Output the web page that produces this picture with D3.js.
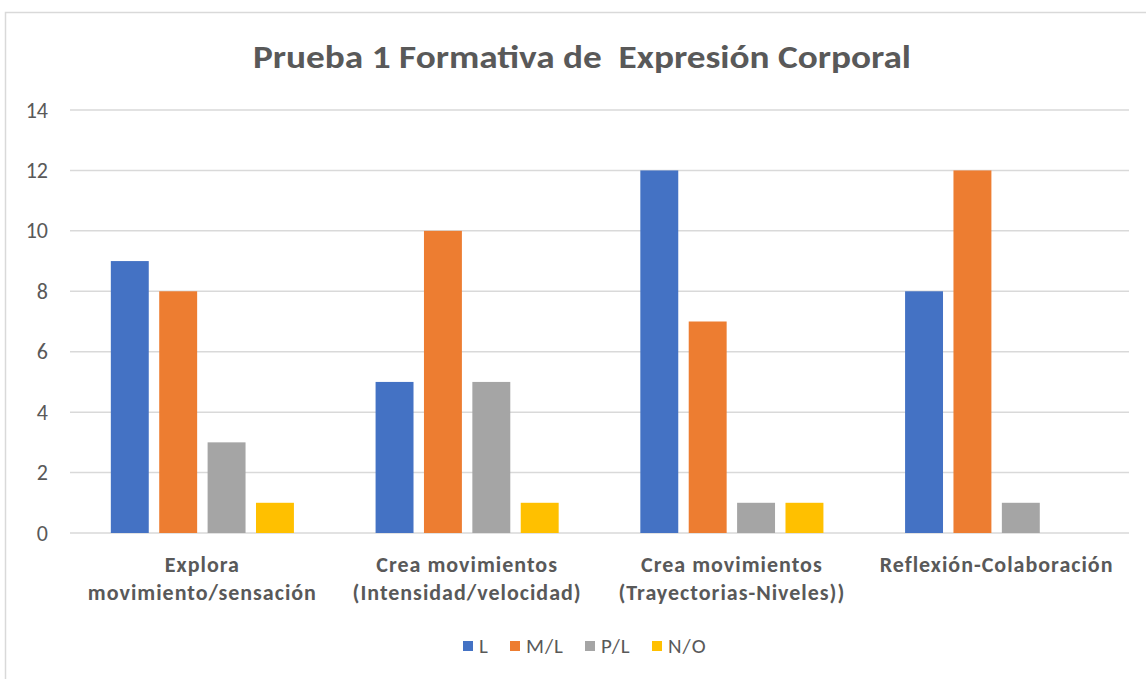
<!DOCTYPE html>
<html>
<head>
<meta charset="utf-8">
<script src="https://cdn.jsdelivr.net/npm/d3@7"></script>
<style>
  body { margin: 0; background: #fff; }
  text { font-family: Carlito, "Open Sans", "Noto Sans", sans-serif; }
</style>
</head>
<body>
<svg width="1146" height="679"></svg>
<script>
const categories = [
  ['Explora', 'movimiento/sensación'],
  ['Crea movimientos', '(Intensidad/velocidad)'],
  ['Crea movimientos', '(Trayectorias-Niveles))'],
  ['Reflexión-Colaboración']
];
const seriesNames = ['L', 'M/L', 'P/L', 'N/O'];
const valuesL = [9, 5, 12, 8];
const valuesML = [8, 10, 7, 12];
const valuesPL = [3, 5, 1, 1];
const valuesNO = [1, 1, 1, 0];
const yTicks = [0, 2, 4, 6, 8, 10, 12, 14];
const colors = ['#4472C4', '#ED7D31', '#A5A5A5', '#FFC000'];

const allValues = [valuesL, valuesML, valuesPL, valuesNO];
const svg = d3.select('svg');

// chart frame (cropped on right / bottom)
svg.append('rect')
  .attr('x', 5.5).attr('y', 12.5)
  .attr('width', 1200).attr('height', 700)
  .attr('fill', 'none').attr('stroke', '#d9d9d9').attr('stroke-width', 1.5);

const plotLeft = 70, plotRight = 1129, plotTop = 110, plotBottom = 533;

const x0 = d3.scaleBand()
  .domain(d3.range(categories.length))
  .range([plotLeft, plotRight])
  .paddingInner(0).paddingOuter(0);

const x1 = d3.scaleBand()
  .domain(seriesNames)
  .range([-102, 102])
  .padding(0.216);

const y = d3.scaleLinear().domain([0, 14]).range([plotBottom, plotTop]);

// gridlines
svg.append('g')
  .selectAll('line')
  .data(yTicks)
  .enter().append('line')
  .attr('x1', plotLeft).attr('x2', plotRight)
  .attr('y1', d => y(d)).attr('y2', d => y(d))
  .attr('stroke', '#d9d9d9').attr('stroke-width', 1.5);

// y axis labels
const yAxis = svg.append('g')
  .attr('transform', `translate(48,0)`)
  .call(d3.axisLeft(y).tickValues(yTicks).tickSize(0).tickPadding(0));
yAxis.select('.domain').remove();
yAxis.selectAll('text')
  .attr('fill', '#595959')
  .style('font-family', 'Carlito, "Open Sans", sans-serif')
  .style('font-size', '22px');

// bars
const groups = svg.append('g')
  .selectAll('g')
  .data(categories.map((c, i) => i))
  .enter().append('g')
  .attr('transform', i => `translate(${x0(i) + x0.bandwidth() / 2},0)`);

groups.selectAll('rect')
  .data(i => seriesNames.map((s, k) => ({ s, k, v: allValues[k][i] })))
  .enter().append('rect')
  .attr('x', d => x1(d.s))
  .attr('y', d => y(d.v))
  .attr('width', x1.bandwidth())
  .attr('height', d => Math.max(0, y(0) - y(d.v)))
  .attr('fill', d => colors[d.k]);

// category labels
const catLabels = svg.append('g')
  .selectAll('text')
  .data(categories)
  .enter().append('text')
  .attr('x', (d, i) => x0(i) + x0.bandwidth() / 2)
  .attr('y', 572)
  .attr('text-anchor', 'middle')
  .attr('fill', '#595959')
  .style('font-size', '22px')
  .style('letter-spacing', '1px')
  .style('font-weight', '600');
catLabels.selectAll('tspan')
  .data(d => d)
  .enter().append('tspan')
  .attr('x', function () { return d3.select(this.parentNode).attr('x'); })
  .attr('dy', (d, i) => i === 0 ? 0 : 28)
  .text(d => d);

// title
svg.append('text')
  .attr('x', 582).attr('y', 68)
  .attr('text-anchor', 'middle')
  .attr('fill', '#595959')
  .style('font-size', '32px')
  .style('font-weight', 'bold')
  .attr('textLength', 658)
  .attr('lengthAdjust', 'spacingAndGlyphs')
  .style('white-space', 'pre')
  .text('Prueba 1 Formativa de  Expresión Corporal');

// legend
const legendX = [463, 510, 585, 652];
const legend = svg.append('g')
  .selectAll('g')
  .data(seriesNames)
  .enter().append('g')
  .attr('transform', (d, i) => `translate(${legendX[i]},641)`);
legend.append('rect')
  .attr('width', 10).attr('height', 10)
  .attr('fill', (d, i) => colors[i]);
legend.append('text')
  .attr('x', 16).attr('y', 12)
  .attr('fill', '#595959')
  .style('font-size', '21px')
  .style('letter-spacing', '1px')
  .text(d => d);
</script>
</body>
</html>
